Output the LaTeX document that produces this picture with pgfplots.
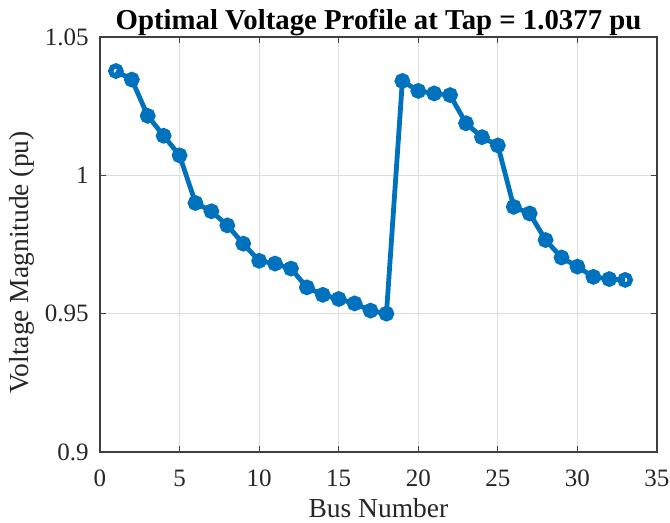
\documentclass[border=0pt]{standalone}
\usepackage{fontspec}
\setmainfont{Liberation Serif}
\usepackage{pgfplots}
\pgfplotsset{compat=1.18}
\definecolor{mblue}{rgb}{0,0.447,0.741}
\definecolor{axgray}{rgb}{0.25,0.25,0.25}
\definecolor{gridgray}{rgb}{0.87,0.87,0.87}
\begin{document}
\begin{tikzpicture}
\useasboundingbox (-50pt,-35.5pt) rectangle (285pt,226pt);
\begin{axis}[
  at={(0,0)}, anchor=south west,
  scale only axis,
  width=278.5pt, height=207.5pt,
  xmin=0, xmax=35, ymin=0.9, ymax=1.05,
  xtick={0,5,...,35},
  ytick={0.9,0.95,1,1.05},
  yticklabels={0.9,0.95,1,1.05},
  tick align=inside,
  major tick length=2.8pt,
  xtick pos=both, ytick pos=both,
  grid=major,
  major grid style={gridgray, line width=0.5pt},
  axis line style={axgray, line width=0.6pt},
  tick style={axgray, line width=0.6pt},
  /pgf/number format/assume math mode=true,
  ticklabel style={font=\fontsize{12.5}{14}\selectfont, text=black!85},
  xticklabel style={anchor=base, inner sep=0pt, yshift=-17.5pt},
  yticklabel style={anchor=east, inner sep=0pt, xshift=-5.5pt},
  xlabel={Bus Number},
  ylabel={Voltage Magnitude (pu)},
  label style={font=\fontsize{13.75}{16}\selectfont, text=black!85},
  xlabel style={at={(axis description cs:0.5,-0.159)}, anchor=base},
  ylabel style={at={(axis description cs:-0.14,0.457)}, anchor=center},
  title={Optimal Voltage Profile at Tap = 1.0377 pu},
  title style={font=\bfseries\fontsize{14.4}{17}\selectfont, at={(axis description cs:0.5,0.99)}, anchor=base, inner sep=0pt},
]
\addplot[mblue, line width=2.4pt, mark=o,
  mark options={line width=2.6pt, scale=1}, mark size=2.6pt] coordinates {
  (1,1.0377) (2,1.0346) (3,1.0215) (4,1.0143) (5,1.0072)
  (6,0.9900) (7,0.9870) (8,0.9819) (9,0.9753) (10,0.9691)
  (11,0.9681) (12,0.9663) (13,0.9595) (14,0.9568) (15,0.9553)
  (16,0.9537) (17,0.9511) (18,0.9500) (19,1.0341) (20,1.0305)
  (21,1.0296) (22,1.0290) (23,1.0188) (24,1.0138) (25,1.0108)
  (26,0.9886) (27,0.9862) (28,0.9766) (29,0.9703) (30,0.9670)
  (31,0.9633) (32,0.9625) (33,0.9622)
};
\end{axis}
\end{tikzpicture}
\end{document}
